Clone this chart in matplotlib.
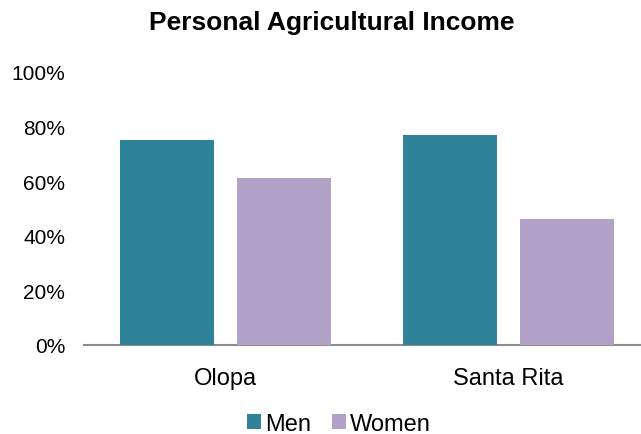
import matplotlib.pyplot as plt
import numpy as np

plt.rcParams['font.family'] = ['Liberation Sans', 'DejaVu Sans']

sites = ["Olopa", "Santa Rita"]
men = [75, 77]
women = [61, 46]
yticks = [0, 20, 40, 60, 80, 100]

men_color = "#2f8399"
women_color = "#b3a2c8"

fig = plt.figure(figsize=(6.41, 4.35), dpi=100)
ax = fig.add_axes([84 / 641, 1 - 346 / 435, 566 / 641, 273 / 435])

x = np.arange(len(sites))
w = 0.332
off = 0.208
ax.bar(x - off, men, w, color=men_color, label="Men", zorder=3)
ax.bar(x + off, women, w, color=women_color, label="Women", zorder=3)

ax.set_xlim(-0.5, 1.5)
ax.set_ylim(0, 100)
ax.set_yticks(yticks)
ax.set_yticklabels([f"{t}%" for t in yticks], fontsize=15)
ax.set_xticks(x)
ax.set_xticklabels(sites, fontsize=17)
ax.tick_params(axis="y", length=0, pad=13.5)
ax.tick_params(axis="x", length=0, pad=16)

for s in ["top", "right", "left"]:
    ax.spines[s].set_visible(False)
ax.spines["bottom"].set_color("#8c8c8c")
ax.spines["bottom"].set_linewidth(1.5)

fig.text(332 / 641, 1 - 23 / 435, "Personal Agricultural Income",
         ha="center", va="center", fontsize=19, fontweight="bold")

fig.legend(loc="center", bbox_to_anchor=(339 / 641, 1 - 425 / 435), ncol=2,
           frameon=False, fontsize=17, handlelength=0.6, handleheight=0.6,
           handletextpad=0.17, columnspacing=0.88, borderpad=0.2)

fig.savefig("out.png", dpi=100)
